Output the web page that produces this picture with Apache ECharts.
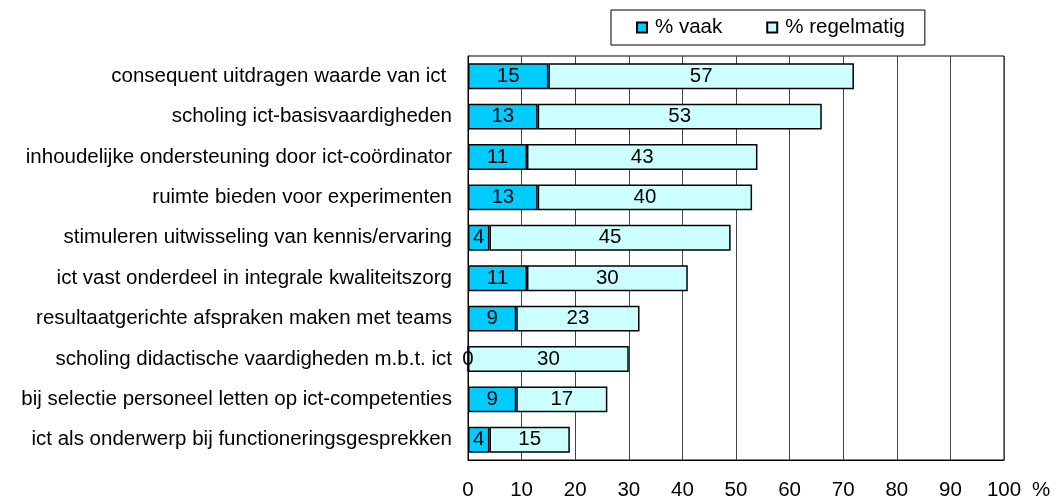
<!DOCTYPE html>
<html>
<head>
<meta charset="utf-8">
<script src="https://cdn.jsdelivr.net/npm/echarts@6/dist/echarts.min.js"></script>
<style>
  html, body { margin: 0; padding: 0; background: #fff; }
  #chart { width: 1056px; height: 501px; }
</style>
</head>
<body>
<div id="chart"></div>
<script>
// categories, top to bottom
var categories = [
  'consequent uitdragen waarde van ict ',
  'scholing ict-basisvaardigheden',
  'inhoudelijke ondersteuning door ict-coördinator',
  'ruimte bieden voor experimenten',
  'stimuleren uitwisseling van kennis/ervaring',
  'ict vast onderdeel in integrale kwaliteitszorg',
  'resultaatgerichte afspraken maken met teams',
  'scholing didactische vaardigheden m.b.t. ict',
  'bij selectie personeel letten op ict-competenties',
  'ict als onderwerp bij functioneringsgesprekken'
];
var vaak = [15, 13, 11, 13, 4, 11, 9, 0, 9, 4];
var regelmatig = [57, 53, 43, 40, 45, 30, 23, 30, 17, 15];
var seriesNames = ['% vaak', '% regelmatig'];

var font = 'Liberation Sans, Arial, sans-serif';
var fs = 20.5;

var chart = echarts.init(document.getElementById('chart'));

var barLabel = {
  show: true,
  position: 'inside',
  color: '#000',
  fontSize: fs,
  fontFamily: font
};

var option = {
  animation: false,
  backgroundColor: '#fff',
  grid: {
    left: 468, right: 52, top: 56, bottom: 40,
    show: true, borderColor: '#000', borderWidth: 1
  },
  legend: {
    data: seriesNames,
    left: 611, top: 10,
    padding: [7, 20, 7, 25],
    itemGap: 44,
    itemWidth: 10, itemHeight: 10,
    icon: 'rect',
    borderColor: '#000', borderWidth: 1,
    textStyle: { fontSize: fs, fontFamily: font, color: '#000', padding: [0, 0, 0, 3] }
  },
  xAxis: {
    type: 'value',
    min: 0, max: 100, interval: 10,
    axisLine: { show: true, lineStyle: { color: '#000' } },
    axisTick: { show: false },
    splitLine: { show: true, lineStyle: { color: '#444', width: 1 } },
    axisLabel: { fontSize: fs, fontFamily: font, color: '#000', margin: 20 }
  },
  yAxis: {
    type: 'category',
    data: categories,
    inverse: true,
    axisLine: { show: true, lineStyle: { color: '#000' } },
    axisTick: { show: false },
    axisLabel: { fontSize: fs, fontFamily: font, color: '#000', margin: 16 }
  },
  graphic: [{
    type: 'text', left: 1032, top: 480,
    style: { text: '%', fontSize: fs, fontFamily: font, fill: '#000' }
  }],
  series: [
    {
      name: seriesNames[0], type: 'bar', stack: 'a',
      barWidth: '64%',
      data: vaak,
      itemStyle: { color: '#00CCFF', borderColor: '#000', borderWidth: 1.5 },
      label: barLabel
    },
    {
      name: seriesNames[1], type: 'bar', stack: 'a',
      barWidth: '64%',
      data: regelmatig,
      itemStyle: { color: '#CCFFFF', borderColor: '#000', borderWidth: 1.5 },
      label: barLabel
    }
  ]
};

chart.setOption(option);
</script>
</body>
</html>
